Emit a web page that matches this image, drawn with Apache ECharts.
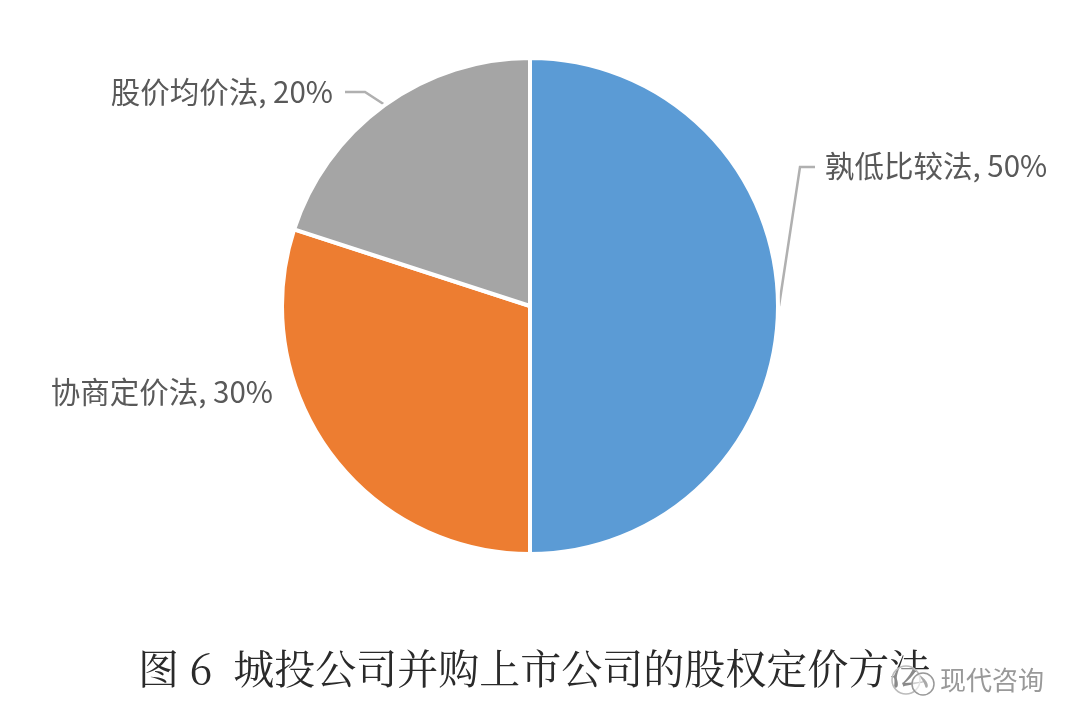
<!DOCTYPE html>
<html><head><meta charset="utf-8">
<style>html,body{margin:0;padding:0;background:#fff}#c{width:1080px;height:727px}</style>
<script src="https://cdn.jsdelivr.net/npm/echarts@6/dist/echarts.min.js"></script>
</head><body><div id="c"></div>
<script>
const categories = ['孰低比较法','协商定价法','股价均价法'];
const values = [50,30,20];
const colors = ['#5B9BD5','#ED7D31','#A5A5A5'];
const titleText = '图 6  城投公司并购上市公司的股权定价方法';
const watermark = '现代咨询';
const chart = echarts.init(document.getElementById('c'));
const cjk = '"Noto Serif CJK SC","Source Han Serif SC","Noto Sans CJK SC"';
chart.setOption({
  animation:false,
  backgroundColor:'#fff',
  title:[
   {text:titleText,left:133,top:643,textStyle:{fontFamily:cjk,fontWeight:'normal',fontSize:41,color:'#2a2a2a'}},
   {text:watermark,left:935,top:662,z:10,textStyle:{fontFamily:'Noto Sans CJK SC',fontWeight:'normal',fontSize:26,color:'#999'}}
  ],
  graphic:[
    {type:'circle',z:9,shape:{cx:906,cy:680,r:14},style:{fill:'rgba(255,255,255,0.45)',stroke:'#bbb',lineWidth:1.5}},
    {type:'circle',z:9,shape:{cx:923,cy:684,r:11},style:{fill:'rgba(255,255,255,0.6)',stroke:'#999',lineWidth:1.5}}
  ],
  series:[{
    type:'pie',
    center:[530,306],
    radius:[0,248],
    startAngle:90,
    clockwise:true,
    data:categories.map((n,i)=>({name:n,value:values[i],itemStyle:{color:colors[i]}})),
    itemStyle:{borderColor:'#fff',borderWidth:4},
    label:{show:true,formatter:p=>p.name+', '+p.value+'%',fontFamily:'Noto Sans CJK SC',fontSize:29.5,color:'#595959'},
    labelLine:{show:true,lineStyle:{color:'#B0B0B0',width:2.5}},
    labelLayout:function(p){
      const layouts=[
        {x:825,y:166,align:'left',verticalAlign:'middle',labelLinePoints:[[779,306],[800,167],[815,167]]},
        {x:273,y:392,align:'right',verticalAlign:'middle',labelLinePoints:[[283,392],[283,392],[283,392]]},
        {x:333,y:92,align:'right',verticalAlign:'middle',labelLinePoints:[[385,105],[365,92],[345,92]]}
      ];
      return layouts[p.dataIndex];
    }
  }]
});
</script></body></html>
